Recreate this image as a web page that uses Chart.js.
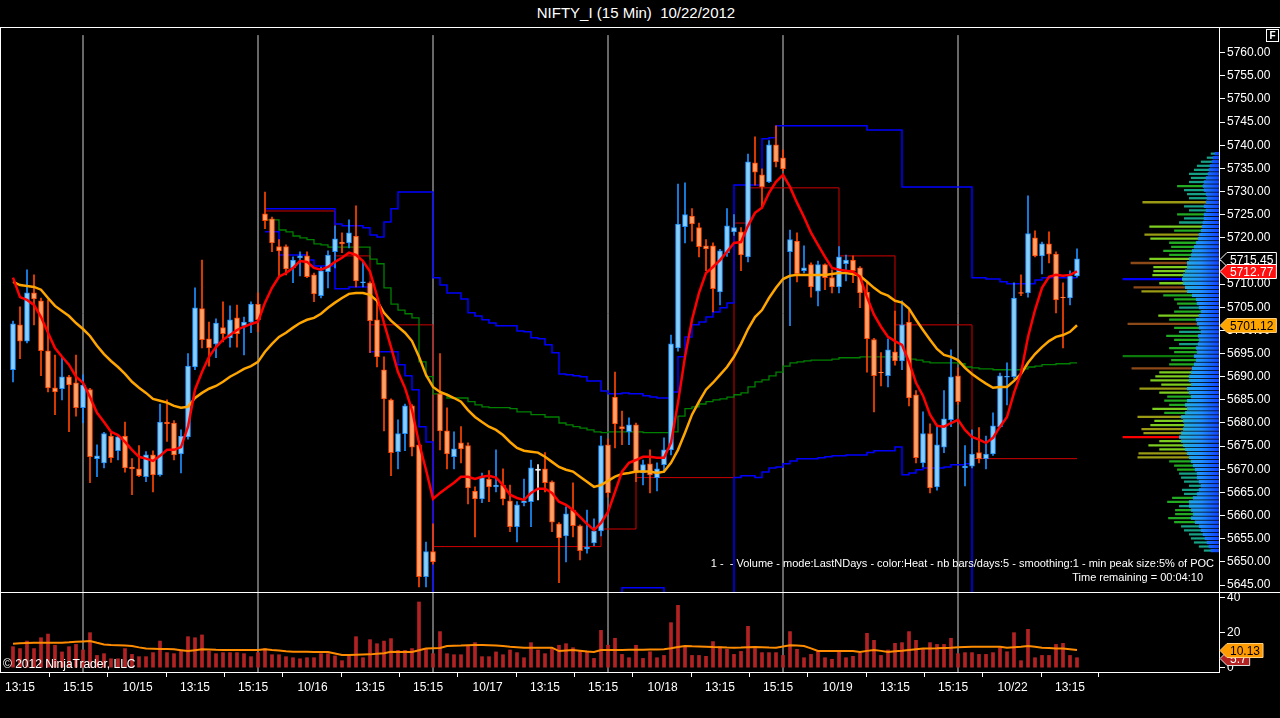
<!DOCTYPE html>
<html>
<head>
<meta charset="utf-8">
<title>NIFTY_I (15 Min) 10/22/2012</title>
<script src="https://cdn.jsdelivr.net/npm/chart.js@4"></script>
<style>
  body { margin:0; background:#000; width:1280px; height:718px; overflow:hidden; position:relative;
         font-family:"Liberation Sans", Arial, sans-serif; color:#fff; }
  canvas { position:absolute; }
  .txt { position:absolute; white-space:nowrap; color:#fff; }
  .ln { position:absolute; background:#fff; }
</style>
</head>
<body>
<div class="txt" style="left:0;width:1272px;top:4px;text-align:center;font-size:15px;">NIFTY_I (15 Min)&nbsp; 10/22/2012</div>

<canvas id="main" width="1280" height="565" style="left:0;top:27px"></canvas>
<canvas id="profile" width="99" height="565" style="left:1120px;top:27px"></canvas>
<canvas id="vol" width="1280" height="108" style="left:0;top:592px"></canvas>

<div class="ln" style="left:0;top:27px;width:1280px;height:1px"></div>
<div class="ln" style="left:0;top:592px;width:1280px;height:1px"></div>
<div class="ln" style="left:0;top:27px;width:1px;height:645px"></div>
<div style="position:absolute;left:1266px;top:29px;width:11px;height:11px;border:1px solid #fff;font-size:10px;font-weight:bold;text-align:center;line-height:11px;">F</div>

<div class="txt" style="right:66px;top:557px;font-size:11px;">1 -&nbsp; - Volume - mode:LastNDays - color:Heat - nb bars/days:5 - smoothing:1 - min peak size:5% of POC</div>
<div class="txt" style="right:77px;top:571px;font-size:11px;">Time remaining = 00:04:10</div>
<div class="txt" style="left:3px;top:657px;font-size:12px;">© 2012 NinjaTrader, LLC</div>

<script>
// ---- candles (15 min bars, 10/12 13:00 .. 10/22 13:30) ----
const opens = [5691.5,5701.2,5697.7,5708.1,5706.4,5695.6,5687.6,5687.4,5690.0,5688.7,
  5683.3,5687.2,5672.3,5671.4,5677.2,5674.0,5677.2,5670.5,5670.1,5668.4,
  5673.1,5668.8,5680.2,5680.0,5673.3,5677.0,5692.1,5704.7,5698.2,5697.1,
  5700.6,5698.4,5702.7,5701.0,5701.8,5705.7,5725.2,5724.1,5718.1,5718.1,
  5713.5,5715.7,5716.1,5712.0,5707.5,5712.7,5717.0,5719.1,5718.9,5720.4,
  5710.3,5710.3,5702.3,5691.5,5685.0,5673.8,5677.7,5683.7,5675.3,5646.8,
  5652.2,5686.3,5678.3,5672.7,5675.7,5675.1,5665.3,5663.6,5667.9,5666.2,
  5666.6,5663.2,5657.6,5662.8,5663.0,5669.9,5670.1,5667.3,5658.2,5655.6,
  5661.2,5657.8,5652.8,5654.1,5656.7,5675.3,5685.6,5679.2,5678.1,5679.6,
  5669.2,5671.2,5668.2,5671.0,5674.2,5696.2,5722.4,5724.7,5722.2,5718.3,
  5718.3,5708.3,5716.8,5721.3,5721.3,5715.9,5736.2,5733.6,5732.1,5740.1,
  5737.3,5717.0,5719.3,5712.9,5714.2,5708.5,5714.2,5711.4,5709.4,5714.4,
  5715.2,5713.5,5708.3,5698.0,5691.0,5690.2,5695.4,5693.4,5701.8,5686.1,
  5671.4,5677.7,5666.2,5674.8,5680.7,5690.2,5670.3,5670.7,5673.6,5672.3,
  5673.3,5679.2,5689.9,5690.0,5708.2,5708.1,5720.0,5716.1,5718.7,5716.5,
  5707.2,5707.0,5711.8];
const highs = [5702.0,5705.1,5713.1,5712.0,5707.0,5706.6,5694.7,5694.1,5690.3,5694.7,
  5690.4,5687.5,5675.3,5678.0,5677.8,5677.4,5680.2,5672.3,5675.1,5673.8,
  5674.0,5684.1,5685.0,5680.5,5678.5,5695.0,5709.2,5715.2,5701.8,5702.5,
  5706.2,5705.3,5705.5,5702.9,5706.2,5708.1,5729.9,5724.5,5719.6,5718.5,
  5715.9,5717.0,5717.0,5712.4,5713.7,5717.2,5722.6,5721.1,5723.9,5726.9,
  5715.0,5710.5,5706.6,5694.3,5685.2,5680.7,5684.1,5684.0,5675.5,5654.3,
  5658.2,5695.0,5683.3,5678.1,5679.2,5675.7,5666.2,5669.2,5669.7,5674.2,
  5670.1,5666.6,5663.0,5667.9,5672.0,5671.0,5673.6,5667.5,5658.5,5661.9,
  5667.1,5658.0,5661.2,5659.3,5677.2,5676.6,5691.0,5682.6,5681.1,5680.0,
  5672.0,5674.2,5671.4,5676.8,5699.0,5731.6,5731.9,5726.3,5723.2,5719.6,
  5718.9,5717.5,5726.3,5725.0,5722.2,5738.1,5741.8,5734.9,5741.0,5744.2,
  5739.0,5721.7,5721.1,5718.3,5714.6,5715.0,5714.4,5713.1,5718.1,5716.3,
  5716.1,5713.8,5710.3,5698.3,5695.2,5698.2,5704.2,5706.4,5704.4,5687.0,
  5682.4,5679.8,5679.2,5687.0,5695.8,5691.9,5675.1,5678.5,5679.0,5677.2,
  5682.2,5690.8,5693.0,5710.3,5712.0,5729.1,5721.5,5719.1,5721.3,5717.0,
  5710.3,5712.9,5717.6];
const lows = [5688.9,5693.9,5697.3,5701.2,5690.2,5686.7,5681.8,5685.0,5678.1,5681.5,
  5680.0,5667.1,5668.4,5670.3,5671.5,5672.0,5669.4,5664.5,5668.4,5667.3,
  5665.1,5668.5,5676.0,5672.0,5669.2,5676.5,5691.5,5696.2,5692.3,5694.1,
  5697.5,5696.4,5696.4,5694.7,5699.5,5699.7,5722.0,5717.0,5711.6,5712.0,
  5710.3,5711.8,5711.4,5706.2,5707.0,5709.2,5713.5,5716.8,5717.8,5709.4,
  5709.4,5695.2,5692.1,5678.3,5668.6,5670.1,5674.0,5672.9,5644.6,5644.6,
  5649.5,5674.2,5670.1,5670.1,5671.4,5662.5,5655.4,5662.8,5663.0,5665.1,
  5662.3,5656.5,5654.3,5662.1,5657.6,5663.4,5665.1,5656.5,5645.5,5650.0,
  5655.4,5650.4,5651.9,5653.5,5655.6,5664.0,5674.6,5675.3,5675.3,5667.3,
  5666.6,5664.9,5665.3,5669.4,5673.1,5695.5,5718.9,5719.3,5715.9,5712.9,
  5704.0,5705.5,5716.0,5720.5,5712.9,5714.8,5731.4,5726.5,5731.9,5735.3,
  5734.5,5701.0,5710.5,5712.4,5707.2,5705.3,5708.8,5708.1,5708.1,5710.7,
  5710.3,5704.9,5691.0,5682.4,5688.0,5687.8,5692.5,5691.5,5683.7,5671.4,
  5670.5,5664.9,5665.5,5673.6,5679.2,5684.0,5666.4,5670.3,5671.4,5670.1,
  5673.0,5679.0,5683.9,5689.5,5707.5,5707.2,5715.9,5712.2,5714.6,5703.8,
  5696.2,5705.5,5711.5];
const closes = [5701.4,5697.7,5708.1,5706.8,5695.6,5687.6,5686.7,5690.0,5688.2,5683.3,
  5688.2,5672.7,5672.9,5677.7,5672.5,5677.0,5670.3,5670.1,5668.6,5673.1,
  5668.8,5680.2,5679.8,5673.1,5677.2,5692.3,5704.9,5698.0,5696.2,5701.6,
  5699.3,5702.3,5699.3,5701.8,5705.7,5702.3,5723.7,5718.9,5717.2,5713.3,
  5715.2,5716.1,5711.6,5707.9,5712.9,5716.3,5719.8,5718.7,5721.1,5710.7,
  5710.5,5702.1,5694.3,5685.2,5673.6,5677.7,5683.7,5674.8,5646.8,5652.2,
  5650.0,5678.3,5673.3,5674.4,5674.4,5666.0,5663.6,5668.2,5666.2,5666.6,
  5663.6,5657.6,5662.3,5663.2,5670.3,5669.9,5667.1,5658.6,5655.2,5660.4,
  5657.8,5652.4,5653.2,5656.7,5675.1,5664.9,5679.8,5678.7,5679.6,5669.2,
  5671.0,5668.8,5670.1,5674.2,5697.1,5723.0,5725.0,5723.0,5718.1,5717.6,
  5709.0,5717.2,5722.6,5722.2,5716.3,5736.4,5734.2,5731.0,5740.1,5736.4,
  5734.9,5719.6,5712.2,5713.5,5709.4,5714.2,5711.4,5709.4,5715.9,5715.2,
  5712.9,5708.1,5698.2,5690.2,5690.8,5695.8,5693.4,5701.2,5685.4,5672.5,
  5677.7,5666.0,5675.3,5680.9,5690.0,5684.6,5670.7,5673.3,5672.3,5673.3,
  5679.4,5690.2,5690.1,5707.0,5708.0,5720.9,5716.1,5718.7,5716.5,5706.6,
  5707.0,5711.8,5715.45];

// ---- moving averages ----
const fastMA = [5711.4,5707.2,5706.6,5705.5,5702.9,5699.5,5696.2,5694.3,5692.6,5690.0,
  5688.7,5685.6,5682.2,5680.2,5678.1,5677.4,5675.9,5674.2,5672.7,5672.3,
  5671.8,5672.9,5674.2,5674.2,5674.8,5679.2,5687.2,5691.0,5694.3,5696.4,
  5698.0,5699.0,5700.1,5700.8,5701.4,5701.9,5706.0,5709.2,5711.6,5712.4,
  5713.5,5715.0,5714.8,5713.5,5713.1,5713.7,5714.8,5715.7,5716.8,5716.3,
  5715.0,5712.7,5707.5,5701.6,5696.4,5691.0,5687.6,5682.8,5675.7,5669.9,
  5663.6,5664.9,5666.0,5667.1,5668.4,5668.4,5667.9,5668.4,5668.6,5668.2,
  5666.6,5664.5,5663.8,5663.4,5664.9,5665.8,5665.8,5664.9,5663.0,5662.3,
  5661.2,5659.7,5658.2,5656.9,5658.4,5660.8,5665.1,5669.5,5671.4,5672.0,
  5672.7,5672.7,5672.5,5672.5,5675.7,5684.4,5694.3,5702.3,5708.1,5712.4,
  5713.7,5715.2,5717.0,5718.9,5719.1,5722.6,5725.4,5726.5,5729.7,5732.1,
  5733.6,5731.0,5727.6,5724.5,5721.1,5718.5,5715.9,5713.5,5713.1,5712.9,
  5712.7,5711.6,5707.2,5703.4,5700.8,5698.6,5697.7,5696.9,5693.2,5688.7,
  5685.9,5681.8,5679.4,5679.2,5680.0,5680.7,5678.5,5677.0,5676.4,5675.7,
  5676.8,5679.2,5681.3,5686.5,5690.8,5698.6,5704.4,5709.2,5711.6,5712.0,
  5711.8,5712.0,5712.77];
const slowMA = [5710.5,5709.8,5709.6,5709.4,5708.8,5707.0,5705.3,5704.2,5703.1,5701.6,
  5700.3,5698.8,5696.7,5694.9,5693.4,5692.1,5690.6,5688.9,5687.6,5686.5,
  5685.2,5684.8,5684.4,5683.7,5683.3,5683.5,5685.4,5686.5,5687.4,5688.0,
  5688.9,5690.0,5690.8,5691.7,5692.3,5693.2,5695.4,5697.1,5698.6,5699.5,
  5700.6,5701.6,5702.3,5702.7,5703.6,5704.9,5706.0,5707.0,5707.9,5708.1,
  5708.1,5707.7,5706.4,5703.8,5702.1,5700.8,5699.5,5697.7,5694.3,5690.4,
  5687.8,5686.7,5686.1,5685.4,5684.6,5682.8,5681.3,5680.2,5679.2,5678.5,
  5677.4,5675.9,5674.6,5674.0,5673.8,5673.6,5672.7,5671.6,5670.5,5669.9,
  5669.5,5668.4,5667.3,5666.2,5666.6,5667.5,5668.4,5669.0,5669.2,5669.5,
  5669.5,5669.5,5669.2,5669.5,5671.4,5674.2,5677.9,5681.8,5684.6,5687.2,
  5688.7,5690.4,5692.1,5694.3,5697.1,5700.3,5702.9,5704.4,5707.0,5709.2,
  5711.1,5711.8,5712.0,5712.0,5712.0,5712.0,5712.0,5712.2,5712.4,5712.4,
  5712.2,5711.8,5710.5,5709.2,5708.1,5707.5,5706.4,5706.0,5704.7,5702.3,
  5700.1,5698.0,5696.0,5694.7,5694.3,5693.6,5691.9,5690.6,5689.5,5688.5,
  5687.6,5687.8,5687.8,5689.1,5690.6,5693.0,5694.9,5696.4,5697.7,5698.6,
  5699.0,5699.7,5701.12];

// ---- step lines (bar index where a level starts, level) ----
const blueUpX = [36,46,47,50,51,52,53,54,55,60,61,62,64,65,66,67,68,69,72,73,74,75,76,77,78,79,80,81,82,84,
  85,87,88,90,91,92,94,95,96,97,98,99,100,101,102,103,107,108,109,122,127,137,139,141,142,146,147,152];
const blueUpY = [5726.3,5723.0,5722.6,5722.2,5720.6,5720.2,5723.4,5726.3,5729.9,5711.4,
  5709.8,5708.1,5706.8,5703.8,5703.1,5702.3,5701.6,5701.0,5699.9,5699.7,
  5698.4,5698.2,5696.9,5695.2,5690.6,5690.4,5690.2,5690.0,5689.1,5686.9,
  5686.3,5686.5,5686.3,5685.9,5685.6,5685.4,5686.7,5694.3,5698.6,5701.2,
  5701.8,5702.9,5704.0,5704.9,5705.9,5731.4,5741.4,5741.6,5744.2,5743.3,
  5731.0,5711.4,5711.1,5710.5,5710.1,5710.9,5711.4,5711.4];
const blueLoX = [36,38,42,43,46,48,51,55,56,57,58,59,60,87,93,103,104,106,107,108,
  109,110,111,112,115,116,117,119,122,123,126,127,128,129,130,133,134,136,137,152];
const blueLoY = [5721.3,5716.3,5715.2,5713.9,5709.0,5709.4,5695.4,5692.6,5690.2,5687.2,
  5679.2,5675.9,5640,5644.4,5640,5668.2,5668.6,5668.2,5669.4,5670.3,
  5670.5,5671.2,5671.8,5672.3,5672.5,5672.7,5672.9,5673.1,5673.6,5674.0,
  5674.8,5668.8,5669.2,5669.9,5670.3,5670.5,5671.0,5671.2,5640,5640];
const greenX = [36,38,39,40,41,42,43,44,45,51,52,53,54,55,56,57,58,59,60,62,
  65,66,67,68,71,72,74,76,78,79,80,81,82,83,84,85,90,94,95,96,
  97,98,99,100,101,102,103,104,105,106,107,108,109,110,111,112,113,114,117,118,
  121,128,129,130,131,135,136,137,138,140,144,145,146,147,149,151,152];
const greenY = [5723.9,5721.7,5721.3,5720.4,5720.0,5719.6,5718.7,5718.5,5718.0,5715.4,
  5714.4,5709.2,5705.7,5704.4,5703.6,5702.7,5693.2,5690.0,5686.3,5685.4,
  5684.6,5683.9,5683.5,5683.3,5683.1,5682.4,5681.8,5681.3,5680.0,5679.6,
  5679.2,5678.9,5678.5,5678.1,5677.9,5678.1,5677.9,5678.1,5681.5,5683.1,
  5683.5,5684.1,5684.6,5685.0,5685.2,5685.6,5686.1,5686.5,5687.8,5688.9,
  5689.3,5690.2,5691.0,5692.3,5693.0,5693.2,5693.4,5693.6,5693.8,5694.1,
  5694.3,5693.8,5693.6,5693.2,5693.0,5692.8,5692.1,5691.9,5691.7,5691.5,
  5691.7,5692.1,5692.3,5692.6,5692.8,5693.0,5693.0];
const redStepX = [36,46,51,60,84,89,103,105,118,126,137,152];
const redStepY = [5725.8,5716.1,5701.2,5653.3,5657.1,5668.2,5723.2,5730.8,5716.1,5701.2,5672.3,5672.3];

// ---- volume panel ----
const volumes = [12,10.9,15.2,10.9,17.1,19.2,12.8,9,12,13.3,
  10.1,20,7,8,5.1,5.1,10.9,7.6,6.3,6.3,
  8.6,15.2,8.6,8,9.5,17.7,17.1,18.7,9.5,8,
  8.6,8.6,8.6,8,6.3,8.6,10.9,7.4,7.4,6.3,
  5.7,5.1,5.7,5.7,8,8,6.7,4,6.7,17.7,
  5.7,16,13.7,15.2,16.6,9.9,9.9,10.9,37.5,10.9,
  8,20.6,8,7.4,7.4,12.8,14.3,6.3,6.3,9,
  7.4,10.1,8.6,5.7,14.3,10.1,8,10.9,12.8,13.7,
  11.4,9.5,9.5,5.3,21.3,12.8,16.8,7.6,5.7,12.8,
  5.3,9.1,5.7,7,25.7,35.6,12,7,7,6.5,
  14.9,12,10.5,7.6,9.3,23.6,10.9,8.6,8.6,8.6,
  7,20.6,10.5,5.7,7.6,9.5,5.7,4.8,9.1,5.7,
  6.5,8.2,19.6,15.6,7,10.1,13.9,14.3,20.6,15.6,
  10.5,14.3,13.3,13.3,16.8,8,8.6,8.6,7.6,7.6,
  8.6,11.4,9.1,20,4,21.9,5.7,7,7,13.3,
  13.9,7,5.7];
const volumeMA = [13.7,13.9,14.1,14.3,14.3,14.3,14.3,14.3,14.5,14.8,
  15.0,15.2,14.2,13.3,13.0,12.8,12.6,12.4,11.6,10.9,
  10.8,10.7,10.6,10.5,10.0,9.5,10.0,10.5,10.4,10.2,
  10.1,10.1,10.1,10.1,10.1,10.1,10.5,10.1,9.8,9.4,
  9.1,9.1,9.1,9.0,9.0,9.0,8.1,7.2,7.3,7.4,
  7.5,7.6,7.9,8.2,9.1,9.0,9.0,9.0,10.0,11.0,
  11.1,11.2,12.4,12.5,12.6,12.8,12.9,13.0,12.8,12.6,
  12.4,12.0,11.7,11.4,11.4,11.4,11.4,11.4,9.5,9.8,
  10.1,9.7,9.3,9.0,10.1,10.1,10.1,10.1,10.2,10.2,
  10.3,10.4,10.4,10.5,11.1,11.8,12.4,12.2,12.1,12.0,
  11.8,11.7,11.5,11.4,11.5,11.7,11.8,11.7,11.5,11.4,
  12.1,12.8,12.6,12.4,11.0,9.5,9.5,9.5,9.5,9.5,
  9.5,9.0,9.6,10.1,9.6,9.0,9.4,9.7,10.1,10.5,
  10.9,11.0,11.1,11.3,11.4,11.6,11.8,12.0,12.0,12.0,
  12.0,12.0,11.4,11.7,12.0,12.4,11.9,11.4,11.2,11.0,
  10.9,10.5,10.13];

// ---- volume profile (price level, size) ----
const profilePrices = [];
for (let p = 5645; p <= 5743; p++) profilePrices.push(p);
const profileCore = [8,10,12,14,16,18,20,24,28,26, 28,30,30,26,22,20,18,20,22,22,
  24,26,28,30,32,34,36,38,40,38, 36,35,36,38,34,32,34,32,28,30,
  32,28,30,30,28,27,25,23,25,22, 23,21,20,21,18,20,22,23,20,18,
  20,22,23,27,32,34,36,37,36,34, 32,32,30,28,27,25,23,21,20,18,
  17,16,15,15,13,15,13,12,13,15, 16,15,13,11,10,9,7,6,4];
const profileLong = [15,20,25,28,30,35,38,45,51,44, 44,40,52,47,35,37,30,35,38,40,
  42,45,50,82,81,60,71,60,97,76, 78,69,65,82,55,67,50,55,52,60,
  80,58,69,64,60,88,50,48,97,45, 50,40,45,53,40,45,92,50,61,45,
  40,42,45,56,78,86,60,97,67,66, 66,89,70,50,56,48,50,69,75,45,
  70,40,35,42,30,35,77,30,32,35, 42,30,28,30,25,22,18,12,8];

// ---- axis labels ----
const priceTicks = [];
for (let p = 5645; p <= 5760; p += 5) priceTicks.push(p);
const volumeTicks = [0, 20, 40];
const dayBreaks = [10,35,60,85,110,135];
const xTickPos = [1,9.3,17.8,26,34.3,42.8,51,59.3,67.8,76,84.3,92.8,101,109.3,117.8,126,134.3,142.8,151];
const xTickLabels = ['13:15','15:15','10/15','13:15','15:15','10/16','13:15','15:15','10/17','13:15',
  '15:15','10/18','13:15','15:15','10/19','13:15','15:15','10/22','13:15'];

// ---------------------------------------------------------------
Chart.defaults.font.family = "'Liberation Sans', Arial, sans-serif";
Chart.defaults.color = '#fff';

const X_MIN = -13 / 7, X_MAX = (1219 - 13) / 7;
const Y_MIN = 5643.49, Y_MAX = 5765.55;
const UP_FILL = '#87cefa', UP_LINE = '#1e90ff';
const DN_FILL = '#ffa066', DN_LINE = '#ff4500';

const pts = (xs, ys) => xs.map((x, i) => ({x: x, y: ys[i]}));
const dayLinePts = (lo, hi) => {
  const out = [];
  dayBreaks.forEach(d => { out.push({x: d, y: lo}, {x: d, y: hi}, {x: d, y: null}); });
  return out;
};

const tagPlugin = {
  id: 'tags',
  afterDraw(chart, args, opts) {
    const ctx = chart.ctx, ys = chart.scales.y;
    const x0 = chart.chartArea.right + 1;
    (opts.items || []).forEach(t => {
      const py = Math.round(ys.getPixelForValue(t.value)) + 0.5;
      ctx.save();
      ctx.font = "12px 'Liberation Sans', Arial, sans-serif";
      const w = ctx.measureText(t.text).width + 6;
      ctx.beginPath();
      ctx.moveTo(x0, py);
      ctx.lineTo(x0 + 7, py - 7);
      ctx.lineTo(x0 + 7 + w, py - 7);
      ctx.lineTo(x0 + 7 + w, py + 7);
      ctx.lineTo(x0 + 7, py + 7);
      ctx.closePath();
      ctx.fillStyle = t.bg; ctx.fill();
      ctx.lineWidth = 1; ctx.strokeStyle = t.border; ctx.stroke();
      ctx.fillStyle = t.color; ctx.textBaseline = 'middle';
      ctx.fillText(t.text, x0 + 10, py + 1);
      ctx.restore();
    });
  }
};

const isUp = i => closes[i] > opens[i];
const isDoji = i => closes[i] === opens[i];

new Chart(document.getElementById('main'), {
  type: 'bar',
  data: {
    datasets: [
      { type: 'line', data: fastMA.map((v, i) => ({x: i, y: v})), borderColor: '#ff0000', borderWidth: 2.5,
        pointRadius: 0, order: 0 },
      { type: 'line', data: slowMA.map((v, i) => ({x: i, y: v})), borderColor: '#ffa500', borderWidth: 2.5,
        pointRadius: 0, order: 0 },
      { data: opens.map((o, i) => ({x: i, y: isDoji(i) ? [o - 0.15, o + 0.15] : [o, closes[i]]})),
        backgroundColor: opens.map((o, i) => isDoji(i) ? '#ffffff' : (isUp(i) ? UP_FILL : DN_FILL)),
        borderColor: opens.map((o, i) => isDoji(i) ? '#ffffff' : (isUp(i) ? UP_LINE : DN_LINE)),
        borderWidth: 1, borderSkipped: false, barThickness: 5, grouped: false, order: 1 },
      { data: highs.map((h, i) => ({x: i, y: [lows[i], h]})),
        backgroundColor: opens.map((o, i) => isDoji(i) ? '#ffffff' : (isUp(i) ? UP_LINE : DN_LINE)),
        borderWidth: 0, barThickness: 1, grouped: false, order: 2 },
      { type: 'line', data: pts(greenX, greenY), stepped: true, borderColor: '#008000', borderWidth: 1.3,
        pointRadius: 0, order: 3 },
      { type: 'line', data: pts(blueUpX, blueUpY), stepped: true, borderColor: '#0000ff', borderWidth: 1.5,
        pointRadius: 0, order: 3 },
      { type: 'line', data: pts(blueLoX, blueLoY), stepped: true, borderColor: '#0000ff', borderWidth: 1.5,
        pointRadius: 0, order: 3 },
      { type: 'line', data: pts(redStepX, redStepY), stepped: true, borderColor: '#d00000', borderWidth: 1,
        pointRadius: 0, order: 3 },
      { type: 'line', data: dayLinePts(Y_MIN, 5763.8), borderColor: '#cfcfcf', borderWidth: 1,
        pointRadius: 0, spanGaps: false, order: 4 }
    ]
  },
  options: {
    responsive: false, animation: false,
    layout: { padding: 0 },
    plugins: {
      legend: { display: false }, tooltip: { enabled: false },
      tags: { items: [
        { value: 5715.45, text: '5715.45', bg: '#000000', border: '#ffffff', color: '#ffffff' },
        { value: 5712.77, text: '5712.77', bg: '#ff1010', border: '#ffffff', color: '#ffffff' },
        { value: 5701.12, text: '5701.12', bg: '#ffa500', border: '#ffd080', color: '#000000' }
      ] }
    },
    scales: {
      x: { type: 'linear', min: X_MIN, max: X_MAX, offset: false, display: false },
      y: {
        type: 'linear', position: 'right', min: Y_MIN, max: Y_MAX,
        ticks: { color: '#ffffff', font: { size: 12 }, padding: 2, callback: v => Number(v).toFixed(2) },
        afterBuildTicks: a => { a.ticks = priceTicks.map(v => ({value: v})); },
        afterFit: a => { a.width = 61; a.paddingTop = 0; a.paddingBottom = 0; },
        grid: { drawOnChartArea: false, color: '#ffffff', tickLength: 6 },
        border: { color: '#ffffff', width: 1 }
      }
    }
  },
  plugins: [tagPlugin]
});

// volume profile overlay (horizontal bars against the same price range)
const heatColor = (v, p) => {
  if (p === 5673) return '#ff0000';
  if (p === 5693) return '#0b7a0b';
  if (p === 5712) return '#0000ff';
  if (v >= 85) return '#8b4a18';
  if (v >= 72) return '#9a9a14';
  if (v >= 58) return '#7ccd20';
  if (v >= 42) return '#22aa22';
  return '#16a085';
};
new Chart(document.getElementById('profile'), {
  type: 'bar',
  data: {
    datasets: [
      { data: profilePrices.map((p, i) => ({x: profileCore[i], y: p})),
        backgroundColor: c => {
          const ca = c.chart.chartArea;
          if (!ca) return '#1e6cff';
          const g = c.chart.ctx.createLinearGradient(ca.left, 0, ca.right, 0);
          g.addColorStop(0, '#2ad0a0'); g.addColorStop(0.6, '#20b8d8');
          g.addColorStop(0.82, '#1e90ff'); g.addColorStop(1, '#1040ff');
          return g;
        },
        barThickness: 2.6, grouped: false, order: 0 },
      { data: profilePrices.map((p, i) => ({x: profileLong[i], y: p})),
        backgroundColor: profilePrices.map((p, i) => heatColor(profileLong[i], p)),
        barThickness: 1.6, grouped: false, order: 1 }
    ]
  },
  options: {
    indexAxis: 'y', responsive: false, animation: false,
    layout: { padding: 0 },
    plugins: { legend: { display: false }, tooltip: { enabled: false } },
    scales: {
      x: { type: 'linear', min: 0, max: 100, reverse: true, display: false },
      y: { type: 'linear', min: Y_MIN, max: Y_MAX, display: false }
    }
  }
});

new Chart(document.getElementById('vol'), {
  type: 'bar',
  data: {
    datasets: [
      { type: 'line', data: volumeMA.map((v, i) => ({x: i, y: v})), borderColor: '#ff8c00', borderWidth: 2,
        pointRadius: 0, order: 0 },
      { data: volumes.map((v, i) => ({x: i, y: v})), backgroundColor: '#b22222', barThickness: 3,
        grouped: false, order: 1 },
      { type: 'line', data: dayLinePts(-3, 50), borderColor: '#cfcfcf', borderWidth: 1, pointRadius: 0,
        spanGaps: false, order: 2 }
    ]
  },
  options: {
    responsive: false, animation: false,
    layout: { padding: 0 },
    plugins: {
      legend: { display: false }, tooltip: { enabled: false },
      tags: { items: [
        { value: 5.7, text: '5.7', bg: '#b22222', border: '#e0e0e0', color: '#ffffff' },
        { value: 10.13, text: '10.13', bg: '#ff9a00', border: '#ffd080', color: '#000000' }
      ] }
    },
    scales: {
      x: {
        type: 'linear', min: X_MIN, max: X_MAX, offset: false, position: 'bottom',
        afterBuildTicks: a => { a.ticks = xTickPos.map(v => ({value: v})); },
        afterFit: a => { a.height = 28; a.paddingLeft = 0; a.paddingRight = 0; },
        ticks: { autoSkip: false, maxRotation: 0, color: '#ffffff', font: { size: 12 }, padding: 3,
                 callback: (v, i) => xTickLabels[i] },
        grid: { drawOnChartArea: false, color: '#ffffff', tickLength: 5 },
        border: { color: '#ffffff', width: 1 }
      },
      y: {
        type: 'linear', position: 'right', min: -2.46, max: 43.2,
        ticks: { color: '#ffffff', font: { size: 12 }, padding: 2 },
        afterBuildTicks: a => { a.ticks = volumeTicks.map(v => ({value: v})); },
        afterFit: a => { a.width = 61; a.paddingTop = 0; a.paddingBottom = 0; },
        grid: { drawOnChartArea: false, color: '#ffffff', tickLength: 6 },
        border: { color: '#ffffff', width: 1 }
      }
    }
  },
  plugins: [tagPlugin]
});
</script>
</body>
</html>
